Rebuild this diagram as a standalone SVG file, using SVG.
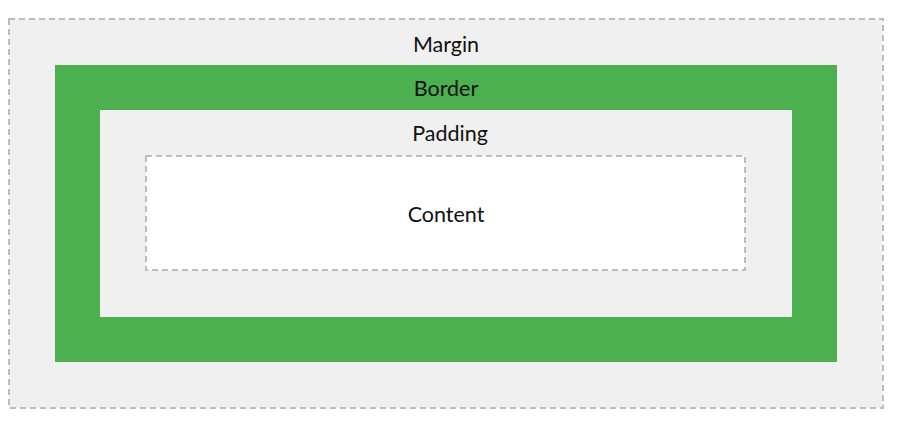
<svg xmlns="http://www.w3.org/2000/svg" width="898" height="423" viewBox="0 0 898 423">
<style>
.lbl{font-family:Lato,"Open Sans","Liberation Sans",sans-serif;font-size:21.5px;fill:#111;text-anchor:middle}
.dash{stroke:#bdbdbd;stroke-width:2;stroke-dasharray:6 4}
</style>
<rect width="898" height="423" fill="#ffffff"/>
<g id="margin">
<rect x="9" y="19" width="874" height="389" fill="#f0f0f0" class="dash"/>
<text class="lbl" x="446" y="51.5">Margin</text>
</g>
<g id="border">
<rect x="55" y="65" width="782" height="297" fill="#4caf50"/>
<text class="lbl" x="446" y="96">Border</text>
</g>
<g id="padding">
<rect x="100" y="110" width="692" height="207" fill="#f0f0f0"/>
<text class="lbl" x="450" y="141">Padding</text>
</g>
<g id="content">
<rect x="146" y="156" width="599" height="114" fill="#ffffff" class="dash"/>
<text class="lbl" x="446" y="221.5">Content</text>
</g>
<g id="connectors"/>
</svg>
